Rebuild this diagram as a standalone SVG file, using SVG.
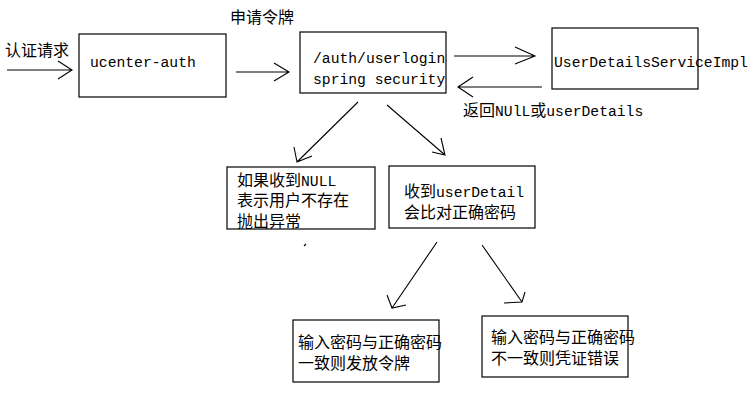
<svg xmlns="http://www.w3.org/2000/svg" width="754" height="403" viewBox="0 0 754 403">
<style>
.box{fill:#fff;stroke:#000;stroke-width:1.2}
.ln{fill:none;stroke:#000;stroke-width:1.1}
.cj{font-family:"Liberation Mono","Noto Sans CJK SC",monospace;font-size:16px;fill:#000}
.m{font-size:14.7px}
</style>
<rect width="754" height="403" fill="#fff"/>
<g id="connectors">
<path class="ln" d="M7 70H72M58 61L72 70L58 79"/>
<path class="ln" d="M236 72H289M274 63L289 72L274 81"/>
<path class="ln" d="M454 56H535M515 47L535 56L515 64"/>
<path class="ln" d="M542 87H458M473 77L458 87L473 97"/>
<path class="ln" d="M358 102L297 162M294 147L297 162L312 156"/>
<path class="ln" d="M387 105L445 155M441 138L445 155L432 152"/>
<path class="ln" d="M437 242L392 308M387 295L392 308L406 305"/>
<path class="ln" d="M482 245L522 302M525 292L522 302L504 303"/>
<path class="ln" d="M304 246L306 244"/>
</g>
<g id="label-auth-request"><text class="cj" x="5" y="56">认证请求</text></g>
<g id="label-apply-token"><text class="cj" x="230" y="23">申请令牌</text></g>
<g id="node-ucenter-auth">
<rect class="box" x="79" y="34" width="147" height="63"/>
<text class="cj m" x="90" y="67">ucenter-auth</text>
</g>
<g id="node-userlogin">
<rect class="box" x="300" y="32" width="146" height="61"/>
<text class="cj m" x="313" y="63">/auth/userlogin</text>
<text class="cj m" x="313" y="84">spring security</text>
</g>
<g id="node-userdetails-service">
<rect class="box" x="552" y="28" width="146" height="61"/>
<text class="cj m" x="554" y="67">UserDetailsServiceImpl</text>
</g>
<g id="label-return"><text class="cj" x="463" y="116">返回<tspan class="m">NUlL</tspan>或<tspan class="m">userDetails</tspan></text></g>
<g id="node-null">
<rect class="box" x="227" y="167" width="148" height="62"/>
<text class="cj" x="237" y="186">如果收到<tspan class="m">NULL</tspan></text>
<text class="cj" x="237" y="206">表示用户不存在</text>
<text class="cj" x="237" y="227">抛出异常</text>
</g>
<g id="node-userdetail">
<rect class="box" x="389" y="166" width="146" height="62"/>
<text class="cj" x="404" y="197">收到<tspan class="m">userDetail</tspan></text>
<text class="cj" x="404" y="218">会比对正确密码</text>
</g>
<g id="node-match">
<rect class="box" x="293" y="320" width="146" height="62"/>
<text class="cj" x="298" y="348">输入密码与正确密码</text>
<text class="cj" x="298" y="369">一致则发放令牌</text>
</g>
<g id="node-mismatch">
<rect class="box" x="482" y="316" width="146" height="61"/>
<text class="cj" x="491" y="343">输入密码与正确密码</text>
<text class="cj" x="491" y="364">不一致则凭证错误</text>
</g>
</svg>
